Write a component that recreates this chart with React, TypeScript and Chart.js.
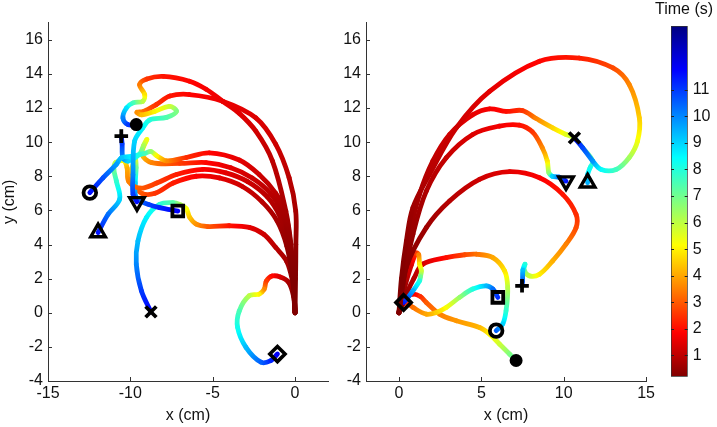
import React, { useEffect, useRef } from 'react';
import { Chart, registerables } from 'chart.js';

Chart.register(...registerables);
Chart.defaults.font.family = "'Liberation Sans', Arial, Helvetica, sans-serif";
Chart.defaults.font.size = 16;
Chart.defaults.color = '#111';

type P = [number, number, number]; // x (cm), y (cm), time (s)

// ---------------- data ----------------
const T_MIN = 0.2;
const T_MAX = 13.4;
const COLORBAR_TICKS = [1, 2, 3, 4, 5, 6, 7, 8, 9, 10, 11];
const Y_TICKS = [-4, -2, 0, 2, 4, 6, 8, 10, 12, 14, 16];
const Y_RANGE = [-4, 17];
const X_TICKS_LEFT = [-15, -10, -5, 0];
const X_RANGE_LEFT = [-15, 2];
const X_TICKS_RIGHT = [0, 5, 10, 15];
const X_RANGE_RIGHT = [-2, 15];
const X_TITLE = 'x (cm)';
const Y_TITLE = 'y (cm)';
const CB_TITLE = 'Time (s)';

// Left panel trajectories
const L_DOT: P[] = [[0,0,0],[-0.1,2,0.2],[-0.25,4,0.45],[-0.56,5.96,0.7],[-1.37,8.89,1.0],[-2.38,10.64,1.25],[-3.4,11.7,1.45],[-4.4,12.4,1.6],[-5.4,13.1,1.75],[-6.41,13.57,1.9],[-8.0,13.85,2.1],[-9.0,13.7,2.5],[-9.44,13.37,3.4],[-9.13,12.79,4.8],[-9.24,12.4,6.0],[-9.84,12.3,7.5],[-10.24,12.0,8.8],[-10.45,11.42,10],[-10.14,11.03,11],[-9.64,11.03,11.8]];
const L_DOWN: P[] = [[0,0,0],[0.03,2,0.2],[0.05,4,0.45],[0.04,5.96,0.7],[-0.36,7.91,0.95],[-1.17,9.87,1.2],[-2.38,11.42,1.4],[-4.4,12.4,1.6],[-6.41,12.79,1.9],[-7.6,12.7,2.1],[-8.43,12.2,2.5],[-9.2,11.8,3.2],[-9.6,11.75,3.7],[-9.3,11.6,4.3],[-8.53,11.8,5.0],[-7.62,12.1,5.8],[-7.2,11.8,6.8],[-7.8,11.45,7.4],[-8.83,11.3,8.0],[-9.24,10.84,8.5],[-9.74,10.06,9.0],[-9.84,8.1,10.0],[-9.84,6.94,11],[-9.6,6.5,11.6]];
const L_CIRCLE: P[] = [[0,0,0],[-0.1,2,0.2],[-0.3,4.2,0.45],[-0.6,5.9,0.7],[-1.17,7.0,0.95],[-2.18,8.1,1.2],[-3.39,8.95,1.5],[-5.2,9.37,1.9],[-6.6,9.1,2.4],[-7.8,8.9,3.6],[-8.4,9.2,5.0],[-8.75,9.45,6.5],[-9.1,9.35,7.5],[-9.84,9.18,8.5],[-10.55,9.08,9.2],[-10.85,8.7,9.7],[-11.66,7.91,10.7],[-12.46,7.04,11.6]];
const L_PLUS: P[] = [[0,0,0],[-0.1,2,0.2],[-0.35,4.2,0.45],[-0.8,5.9,0.7],[-1.5,7.0,0.95],[-2.6,7.9,1.2],[-3.9,8.5,1.5],[-5.4,8.8,1.9],[-7.0,8.75,2.6],[-8.7,8.8,3.5],[-9.3,9.3,4.4],[-9.0,10.15,5.3],[-9.2,9.8,6.2],[-9.44,9.3,7.5],[-10.14,8.89,9.0],[-10.45,9.08,10.0],[-10.5,9.9,11.0],[-10.55,10.35,11.6]];
const L_UP: P[] = [[0,0,0],[-0.1,2,0.2],[-0.4,4.0,0.45],[-0.9,5.6,0.7],[-1.7,6.8,0.95],[-2.9,7.7,1.2],[-4.2,8.2,1.5],[-5.6,8.4,1.8],[-7.2,8.1,2.2],[-8.4,7.6,2.6],[-9.4,7.3,3.0],[-10.1,7.7,3.5],[-10.2,8.5,4.1],[-10.4,8.9,5.0],[-10.9,8.8,6.0],[-11.0,8.4,7.0],[-10.85,7.72,7.8],[-10.65,6.65,9.0],[-11.35,5.77,10.3],[-11.96,4.7,11.5]];
const L_SQUARE: P[] = [[0,0,0],[-0.15,2,0.2],[-0.5,3.9,0.45],[-1.1,5.4,0.7],[-2.0,6.5,0.95],[-3.2,7.4,1.2],[-4.6,7.9,1.5],[-6.0,8.0,1.8],[-7.4,7.6,2.2],[-8.5,7.0,2.5],[-9.3,7.0,2.9],[-9.8,7.6,3.6],[-9.9,8.4,4.5],[-9.7,9.0,5.5],[-9.65,8.5,7.0],[-9.7,7.6,9.0],[-9.64,6.74,10.2],[-8.9,6.35,10.9],[-8.23,6.16,11.3],[-7.12,5.96,11.8]];
const L_X: P[] = [[0,0,0],[-0.05,1.0,0.2],[-0.16,1.87,0.4],[-0.5,3.0,0.7],[-1.17,3.82,0.95],[-1.9,4.6,1.2],[-2.78,5.0,1.5],[-4.0,5.1,2.1],[-5.3,5.05,3.0],[-6.0,5.19,3.7],[-6.4,5.6,4.4],[-6.6,6.1,5.2],[-7.0,6.35,6.3],[-7.42,6.45,7.3],[-8.23,6.35,7.9],[-9.03,5.57,8.6],[-9.54,4.2,9.3],[-9.64,2.85,10.0],[-9.33,1.29,11.0],[-8.75,0.05,11.8]];
const L_DIAMOND: P[] = [[0,0,0],[-0.1,1.0,0.3],[-0.4,1.8,0.7],[-0.9,2.1,1.3],[-1.4,2.15,1.9],[-1.75,1.85,2.6],[-1.87,1.38,3.6],[-2.18,1.09,5.0],[-2.78,1.0,6.0],[-3.39,0.1,7.5],[-3.49,-0.86,8.2],[-2.98,-2.03,9.3],[-2.07,-2.9,10.5],[-1.47,-2.8,11.3],[-1.07,-2.42,11.9]];

// Right panel trajectories
const R_X: P[] = [[0,0,0],[0.15,2,0.2],[0.45,4.2,0.4],[0.85,6.16,0.6],[1.86,8.11,0.9],[3.48,10.84,1.2],[5.5,12.98,1.5],[8.53,14.74,1.9],[10.95,14.93,2.2],[12.99,14.35,2.8],[13.98,13.37,3.6],[14.59,11.42,4.5],[14.48,10.06,5.3],[13.98,9.1,6.3],[13.18,8.4,7.6],[12.27,8.4,8.4],[11.76,8.89,9.8],[11.15,9.67,10.8],[10.65,10.25,11.8]];
const R_UP: P[] = [[0,0,0],[0.24,2.07,0.25],[0.65,4.6,0.5],[1.25,6.94,0.75],[2.06,8.9,1.0],[3.07,10.45,1.25],[4.48,11.6,1.55],[5.5,11.95,1.75],[6.5,11.8,2.0],[7.5,11.85,2.5],[8.3,11.4,3.5],[9.33,10.84,4.6],[10.14,10.45,5.5],[10.65,10.25,6.2],[11.15,9.67,6.8],[11.76,8.89,7.5],[11.6,8.5,8.2],[11.45,8.1,8.8],[11.45,7.62,9.5]];
const R_DOWN: P[] = [[0,0,0],[0.24,1.68,0.2],[0.85,4.6,0.5],[1.66,7.13,0.8],[2.87,9.08,1.1],[4.48,10.45,1.4],[6.1,10.94,1.7],[7.3,11.0,2.0],[8.1,10.6,2.5],[8.7,9.67,3.6],[9.0,8.9,4.8],[9.1,8.2,6.6],[9.3,8.0,9.0],[9.7,7.95,10.3],[10.14,7.72,11.5]];
const R_PLUS: P[] = [[0,0,0],[0.44,2.65,0.3],[1.66,4.99,0.6],[3.07,6.55,0.9],[4.89,7.82,1.2],[6.71,8.27,1.5],[8.53,7.91,1.8],[9.94,6.94,2.1],[10.75,5.77,2.4],[10.75,4.99,2.8],[10.14,4.02,3.5],[9.33,3.04,4.1],[8.53,2.26,4.9],[7.92,2.16,5.8],[7.6,2.5,7.0],[7.65,2.85,8.0],[7.52,2.5,9.2],[7.5,1.87,10.5],[7.47,1.58,11.3]];
const R_DIAMOND: P[] = [[0,0,0],[0.35,1.5,0.6],[0.75,2.8,1.4],[1.05,3.5,2.6],[1.2,3.4,3.5],[1.25,2.85,4.8],[1.36,2.46,5.8],[1.3,2.1,7.0],[1.25,1.87,8.0],[0.85,1.29,9.5],[0.55,0.9,10.5],[0.28,0.6,11.5]];
const R_CIRCLE: P[] = [[0,0,0],[0.5,1.2,0.5],[0.9,2.0,0.9],[1.45,2.85,1.3],[2.87,3.23,2.0],[4.0,3.4,2.8],[4.69,3.43,3.3],[5.7,3.23,4.0],[6.41,2.46,4.8],[6.6,1.48,6.0],[6.5,0.12,7.8],[6.3,-0.66,9.0],[5.9,-1.05,10.5]];
const R_SQUARE: P[] = [[0,0,0],[0.25,0.5,1.2],[0.5,0.55,2.5],[0.85,0.31,3.3],[1.66,-0.08,4.0],[2.27,0.02,4.5],[2.87,0.31,5.2],[3.68,0.9,6.5],[4.48,1.39,8.0],[5.3,1.58,9.3],[5.7,1.39,10.3],[6.0,0.9,11.2]];
const R_DOT: P[] = [[0,0,0],[0.3,0.8,0.8],[0.85,1.09,1.6],[1.3,0.95,2.4],[1.66,0.6,3.0],[2.47,-0.08,3.5],[3.48,-0.47,3.8],[4.89,-0.86,4.2],[5.5,-1.25,5.0],[6.1,-1.83,5.8],[6.71,-2.42,6.8],[7.11,-2.8,7.5]];

type Series = { pts: P[]; marker: string };
const LEFT_SERIES: Series[] = [
  { pts: L_DOT, marker: 'dot' },
  { pts: L_DOWN, marker: 'down' },
  { pts: L_CIRCLE, marker: 'circle' },
  { pts: L_PLUS, marker: 'plus' },
  { pts: L_UP, marker: 'up' },
  { pts: L_SQUARE, marker: 'square' },
  { pts: L_X, marker: 'x' },
  { pts: L_DIAMOND, marker: 'diamond' },
];
const RIGHT_SERIES: Series[] = [
  { pts: R_X, marker: 'x' },
  { pts: R_UP, marker: 'up' },
  { pts: R_DOWN, marker: 'down' },
  { pts: R_PLUS, marker: 'plus' },
  { pts: R_DIAMOND, marker: 'diamond' },
  { pts: R_CIRCLE, marker: 'circle' },
  { pts: R_SQUARE, marker: 'square' },
  { pts: R_DOT, marker: 'dot' },
];

// ---------------- styles ----------------
const MARKERS: Record<string, { style: string; r: number; fill: string; rot: number; w: number }> = {
  dot: { style: 'circle', r: 4.6, fill: '#000', rot: 0, w: 3.8 },
  circle: { style: 'circle', r: 6.3, fill: 'rgba(0,0,0,0)', rot: 0, w: 3.8 },
  plus: { style: 'cross', r: 6.8, fill: 'rgba(0,0,0,0)', rot: 0, w: 3.8 },
  x: { style: 'crossRot', r: 7.6, fill: 'rgba(0,0,0,0)', rot: 0, w: 3.8 },
  up: { style: 'triangle', r: 8.4, fill: 'rgba(0,0,0,0)', rot: 0, w: 3.4 },
  down: { style: 'triangle', r: 8.4, fill: 'rgba(0,0,0,0)', rot: 180, w: 3.4 },
  square: { style: 'rect', r: 7.6, fill: 'rgba(0,0,0,0)', rot: 0, w: 3.8 },
  diamond: { style: 'rectRot', r: 7.6, fill: 'rgba(0,0,0,0)', rot: 0, w: 3.6 },
};

function jet(t: number): string {
  let v = 1 - (t - T_MIN) / (T_MAX - T_MIN);
  v = Math.max(0, Math.min(1, v));
  const c = (a: number) => Math.round(255 * Math.max(0, Math.min(1, 1.5 - Math.abs(4 * v - a))));
  return `rgb(${c(3)},${c(2)},${c(1)})`;
}

function segColor(ctx: any) {
  const chart = ctx.chart;
  const ds = chart.data.datasets[ctx.datasetIndex];
  const a = ds.data[ctx.p0DataIndex];
  const b = ds.data[ctx.p1DataIndex];
  const p0 = ctx.p0, p1 = ctx.p1;
  const dx = p1.x - p0.x, dy = p1.y - p0.y;
  if (dx * dx + dy * dy < 0.25) return jet(b.t);
  const g = chart.ctx.createLinearGradient(p0.x, p0.y, p1.x, p1.y);
  for (let k = 0; k <= 6; k++) {
    const f = k / 6;
    g.addColorStop(f, jet(a.t + f * (b.t - a.t)));
  }
  return g;
}

function panelDatasets(series: Series[]) {
  const lines = series.map((s, i) => ({
    data: s.pts.map(([x, y, t]) => ({ x, y, t })),
    borderColor: '#800000',
    borderWidth: 4.8,
    borderCapStyle: 'round',
    borderJoinStyle: 'round',
    pointRadius: 0,
    pointHoverRadius: 0,
    tension: 0.35,
    fill: false,
    order: i + 1,
    segment: { borderColor: segColor },
  }));
  const ms = series.map((s) => MARKERS[s.marker]);
  const markerDs = {
    data: series.map((s) => {
      const e = s.pts[s.pts.length - 1];
      return { x: e[0], y: e[1] };
    }),
    showLine: false,
    pointStyle: ms.map((m) => m.style),
    pointRadius: ms.map((m) => m.r),
    pointRotation: ms.map((m) => m.rot),
    pointBackgroundColor: ms.map((m) => m.fill),
    pointBorderColor: '#000',
    pointBorderWidth: ms.map((m) => m.w),
    pointHoverRadius: 0,
    order: 0,
  };
  return [markerDs, ...lines];
}

const AXIS_COLOR = '#333';

const inwardTicks = {
  id: 'inwardTicks',
  afterDraw(chart: any, _args: any, opts: any) {
    if (!opts || !opts.enabled) return;
    const ctx = chart.ctx;
    const ca = chart.chartArea;
    const xs = chart.scales.x, ys = chart.scales.y;
    ctx.save();
    ctx.strokeStyle = AXIS_COLOR;
    ctx.lineWidth = 1;
    ctx.beginPath();
    for (const t of xs.ticks) {
      const px = Math.round(xs.getPixelForValue(t.value)) + 0.5;
      ctx.moveTo(px, ca.bottom);
      ctx.lineTo(px, ca.bottom - 4);
    }
    for (const t of ys.ticks) {
      const py = Math.round(ys.getPixelForValue(t.value)) + 0.5;
      ctx.moveTo(ca.left, py);
      ctx.lineTo(ca.left + 4, py);
    }
    ctx.stroke();
    ctx.restore();
  },
};

function panelConfig(series: Series[], xRange: number[], xTicks: number[], showYTitle: boolean, rightPad: number) {
  return {
    type: 'line',
    data: { datasets: panelDatasets(series) },
    options: {
      responsive: false,
      animation: false,
      events: [],
      layout: { padding: { top: 22.7, right: rightPad, left: 0, bottom: 0 } },
      plugins: { legend: { display: false }, tooltip: { enabled: false }, inwardTicks: { enabled: true } },
      scales: {
        x: {
          type: 'linear',
          min: xRange[0],
          max: xRange[1],
          afterBuildTicks: (s: any) => { s.ticks = xTicks.map((v) => ({ value: v })); },
          afterFit: (s: any) => { s.height = 46; },
          grid: { display: true, drawOnChartArea: false, drawTicks: false },
          border: { display: true, color: AXIS_COLOR, width: 1 },
          ticks: { padding: 3, color: '#111', font: { size: 16 }, maxRotation: 0, autoSkip: false, callback: (v: any) => String(v) },
          title: { display: true, text: X_TITLE, color: '#111', font: { size: 16 }, padding: { top: 0, bottom: 2 } },
        },
        y: {
          type: 'linear',
          min: Y_RANGE[0],
          max: Y_RANGE[1],
          afterBuildTicks: (s: any) => { s.ticks = Y_TICKS.map((v) => ({ value: v })); },
          afterFit: (s: any) => { s.width = 48; },
          grid: { display: true, drawOnChartArea: false, drawTicks: false },
          border: { display: true, color: AXIS_COLOR, width: 1 },
          ticks: { padding: 5, color: '#111', font: { size: 16 }, autoSkip: false, callback: (v: any) => String(v) },
          title: { display: showYTitle, text: Y_TITLE, color: '#111', font: { size: 16 }, padding: { top: 0, bottom: 0 } },
        },
      },
    },
    plugins: [inwardTicks],
  };
}

const colorbarPlugin = {
  id: 'colorbarDecor',
  afterDraw(chart: any) {
    const ctx = chart.ctx;
    const ca = chart.chartArea;
    const ys = chart.scales.y;
    ctx.save();
    ctx.strokeStyle = '#222';
    ctx.lineWidth = 1;
    ctx.beginPath();
    for (const t of ys.ticks) {
      const py = Math.round(ys.getPixelForValue(t.value)) + 0.5;
      ctx.moveTo(ca.left, py);
      ctx.lineTo(ca.left + 3, py);
      ctx.moveTo(ca.right, py);
      ctx.lineTo(ca.right - 3, py);
    }
    ctx.stroke();
    ctx.fillStyle = '#111';
    ctx.font = "16px 'Liberation Sans', Arial, Helvetica, sans-serif";
    ctx.textAlign = 'center';
    ctx.textBaseline = 'middle';
    ctx.fillText(CB_TITLE, 44, 10);
    ctx.restore();
  },
};

function colorbarConfig() {
  return {
    type: 'bar',
    data: {
      labels: [''],
      datasets: [
        {
          data: [[T_MIN, T_MAX]],
          backgroundColor: (c: any) => {
            const chart = c.chart;
            const ys = chart.scales.y;
            if (!chart.chartArea || !ys) return jet(T_MIN);
            const g = chart.ctx.createLinearGradient(0, ys.getPixelForValue(T_MIN), 0, ys.getPixelForValue(T_MAX));
            for (let k = 0; k <= 40; k++) {
              const f = k / 40;
              g.addColorStop(f, jet(T_MIN + f * (T_MAX - T_MIN)));
            }
            return g;
          },
          borderColor: '#333',
          borderWidth: 1,
          borderSkipped: false,
          barPercentage: 1,
          categoryPercentage: 1,
        },
      ],
    },
    options: {
      responsive: false,
      animation: false,
      events: [],
      layout: { padding: { left: 31, top: 26, bottom: 50.3, right: 0 } },
      plugins: { legend: { display: false }, tooltip: { enabled: false } },
      scales: {
        x: { display: false },
        y: {
          position: 'right',
          min: T_MIN,
          max: T_MAX,
          afterBuildTicks: (s: any) => { s.ticks = COLORBAR_TICKS.map((v) => ({ value: v })); },
          afterFit: (s: any) => { s.width = 29.3; },
          grid: { display: false, drawTicks: false },
          border: { display: false },
          ticks: { padding: 5, color: '#111', font: { size: 16 }, autoSkip: false, callback: (v: any) => String(v) },
        },
      },
    },
    plugins: [colorbarPlugin],
  };
}

function ChartCanvas({ left, width, make }: { left: number; width: number; make: () => any }) {
  const ref = useRef<HTMLCanvasElement | null>(null);
  useEffect(() => {
    const chart = new Chart(ref.current as HTMLCanvasElement, make());
    return () => chart.destroy();
  }, []);
  return (
    <canvas
      ref={ref}
      width={width}
      height={427}
      style={{ position: 'absolute', left, top: 0, width, height: 427 }}
    />
  );
}

export default function App() {
  return (
    <div style={{ position: 'absolute', left: 0, top: 0, width: 717, height: 427, background: '#fff', overflow: 'hidden' }}>
      <ChartCanvas left={0} width={340} make={() => panelConfig(LEFT_SERIES, X_RANGE_LEFT, X_TICKS_LEFT, true, 12)} />
      <ChartCanvas left={318} width={340} make={() => panelConfig(RIGHT_SERIES, X_RANGE_RIGHT, X_TICKS_RIGHT, false, 10.3)} />
      <ChartCanvas left={640} width={77} make={colorbarConfig} />
    </div>
  );
}
